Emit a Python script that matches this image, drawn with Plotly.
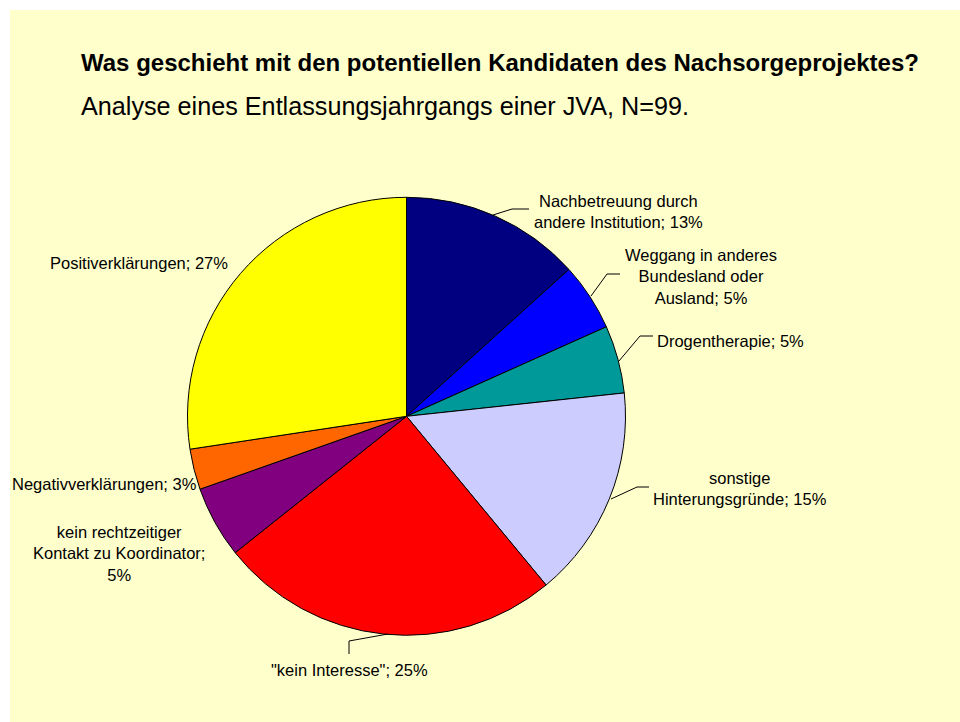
import plotly.graph_objects as go

categories = [
    "Nachbetreuung durch andere Institution",
    "Weggang in anderes Bundesland oder Ausland",
    "Drogentherapie",
    "sonstige Hinterungsgründe",
    "\"kein Interesse\"",
    "kein rechtzeitiger Kontakt zu Koordinator",
    "Negativverklärungen",
    "Positiverklärungen",
]
# shares (%)
shares = [13.3, 5.0, 5.0, 15.7, 25.3, 5.3, 3.0, 27.4]
label_texts = [
    "Nachbetreuung durch<br>andere Institution; 13%",
    "Weggang in anderes<br>Bundesland oder<br>Ausland; 5%",
    "Drogentherapie; 5%",
    "sonstige<br>Hinterungsgründe; 15%",
    "\"kein Interesse\"; 25%",
    "kein rechtzeitiger<br>Kontakt zu Koordinator;<br>5%",
    "Negativverklärungen; 3%",
    "Positiverklärungen; 27%",
]
colors = ["#000080", "#0000FF", "#009999", "#CCCCFF", "#FF0000", "#800080", "#FF6600", "#FFFF00"]

W, H = 960, 722
FONT = "Liberation Sans, Arial, sans-serif"


def px(x):
    return x / W


def py(y):
    return 1 - y / H


cx, cy, r = 406.5, 416.3, 219

fig = go.Figure(go.Pie(
    labels=categories,
    values=shares,
    sort=False,
    direction="clockwise",
    rotation=0,
    marker=dict(colors=colors, line=dict(color="black", width=1)),
    textinfo="none",
    hoverinfo="label",
    showlegend=False,
    domain=dict(x=[px(cx - r), px(cx + r)], y=[py(cy + r), py(cy - r)]),
))

# label positions (pixel) and anchors
label_pos = [
    (618, 211, "center"),
    (701, 276, "center"),
    (655, 341, "left"),
    (740, 488, "center"),
    (349, 670, "center"),
    (119, 553, "center"),
    (104, 484, "center"),
    (139, 263, "center"),
]
annotations = []
for txt, (x, y, anc) in zip(label_texts, label_pos):
    annotations.append(dict(
        x=px(x), y=py(y), xref="paper", yref="paper", text=txt, showarrow=False,
        xanchor=anc, yanchor="middle", align="center",
        font=dict(family=FONT, size=16.5, color="black"),
    ))

annotations.append(dict(
    x=px(79), y=py(63), xref="paper", yref="paper",
    text="<b>Was geschieht mit den potentiellen Kandidaten des Nachsorgeprojektes?</b>",
    showarrow=False, xanchor="left", yanchor="middle",
    font=dict(family=FONT, size=24, color="black"),
))
annotations.append(dict(
    x=px(79), y=py(106), xref="paper", yref="paper",
    text="Analyse eines Entlassungsjahrgangs einer JVA, N=99.",
    showarrow=False, xanchor="left", yanchor="middle",
    font=dict(family=FONT, size=25.2, color="black"),
))

leaders = [
    [(493, 215), (512, 209), (529, 209)],
    [(591, 296), (607, 274), (620, 274)],
    [(619, 361), (640, 336), (653, 336)],
    [(611, 499), (637, 487), (649, 487)],
    [(388, 634), (349, 641), (349, 654)],
]
shapes = [dict(type="rect", xref="paper", yref="paper", x0=px(10), x1=1, y0=0, y1=py(10),
               fillcolor="#FFFFCC", line=dict(width=0), layer="below")]
for pts in leaders:
    path = "M " + " L ".join(f"{px(x)},{py(y)}" for x, y in pts)
    shapes.append(dict(type="path", xref="paper", yref="paper", path=path,
                       line=dict(color="black", width=1)))

fig.update_layout(
    width=W, height=H,
    margin=dict(l=0, r=0, t=0, b=0),
    paper_bgcolor="white",
    plot_bgcolor="white",
    annotations=annotations,
    shapes=shapes,
    font=dict(family=FONT),
)

fig.write_html("out.html", config={"displayModeBar": False},
               post_script="document.body.style.margin='0';")
